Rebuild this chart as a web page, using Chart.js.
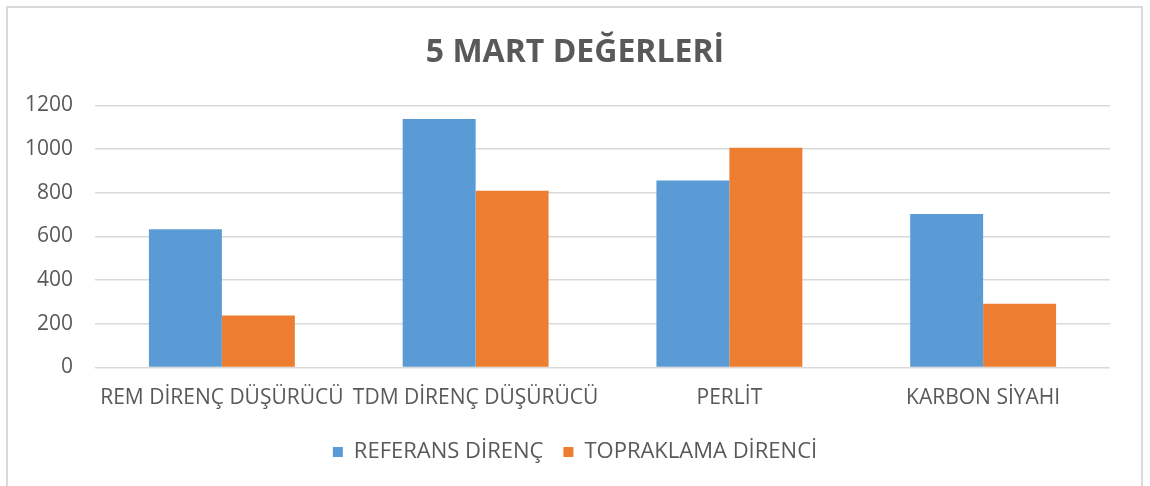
<!DOCTYPE html>
<html>
<head>
<meta charset="utf-8">
<script src="https://cdn.jsdelivr.net/npm/chart.js@4.4.0/dist/chart.umd.min.js"></script>
<style>
  html, body { margin: 0; padding: 0; background: #fff; }
  #frame {
    position: absolute; left: 6px; top: 6px; width: 1133px; height: 500px;
    border: 2px solid #d9d9d9; border-bottom: none;
  }
  #chart { position: absolute; left: 0; top: 0; }
</style>
</head>
<body>
<div id="frame"></div>
<canvas id="chart" width="1150" height="486"></canvas>
<script>
// kategori dan nilai
const categories = ["REM DİRENÇ DÜŞÜRÜCÜ", "TDM DİRENÇ DÜŞÜRÜCÜ", "PERLİT", "KARBON SİYAHI"];
const referansDirenc = [633, 1138, 856, 703];
const topraklamaDirenci = [238, 809, 1006, 292];
const yTicks = [0, 200, 400, 600, 800, 1000, 1200];

const textColor = "#595959";
const fontFamily = "'Open Sans', sans-serif";

const ctx = document.getElementById("chart").getContext("2d");

new Chart(ctx, {
  type: "bar",
  data: {
    labels: categories,
    datasets: [
      {
        label: "REFERANS DİRENÇ",
        data: referansDirenc,
        backgroundColor: "#5B9BD5",
        categoryPercentage: 0.575,
        barPercentage: 1,
      },
      {
        label: "TOPRAKLAMA DİRENCİ",
        data: topraklamaDirenci,
        backgroundColor: "#ED7D31",
        categoryPercentage: 0.575,
        barPercentage: 1,
      },
    ],
  },
  options: {
    responsive: false,
    animation: false,
    layout: { padding: { left: 0, right: 0, top: 0, bottom: 13 } },
    plugins: {
      title: {
        display: true,
        text: "5 MART DEĞERLERİ",
        color: textColor,
        font: { family: fontFamily, size: 32, weight: "bold" },
        padding: { top: 34, bottom: 33 },
      },
      legend: {
        position: "bottom",
        labels: {
          color: textColor,
          font: { family: fontFamily, size: 22 },
          boxWidth: 10,
          boxHeight: 10,
          padding: 20,
        },
      },
      tooltip: { enabled: false },
    },
    scales: {
      x: {
        afterFit: (scale) => { scale.height = 53.5; },
        grid: { display: false, drawTicks: false },
        border: { display: false },
        ticks: {
          color: textColor,
          font: { family: fontFamily, size: 21 },
          padding: 18,
          maxRotation: 0,
          autoSkip: false,
        },
      },
      y: {
        min: 0,
        max: 1200,
        afterFit: (scale) => { scale.width = 95; },
        afterBuildTicks: (scale) => { scale.ticks = yTicks.map((v) => ({ value: v })); },
        grid: { color: "#d9d9d9", lineWidth: 1.5, drawTicks: false },
        border: { display: false },
        ticks: {
          color: textColor,
          font: { family: fontFamily, size: 21 },
          padding: 22,
          callback: (v) => String(v),
        },
      },
      // ruang kosong di kanan, supaya judul & legend tetap di tengah
      kanan: {
        position: "right",
        afterFit: (scale) => { scale.width = 40; },
        grid: { display: false, drawTicks: false },
        border: { display: false },
        ticks: { display: false },
      },
    },
  },
});
</script>
</body>
</html>
